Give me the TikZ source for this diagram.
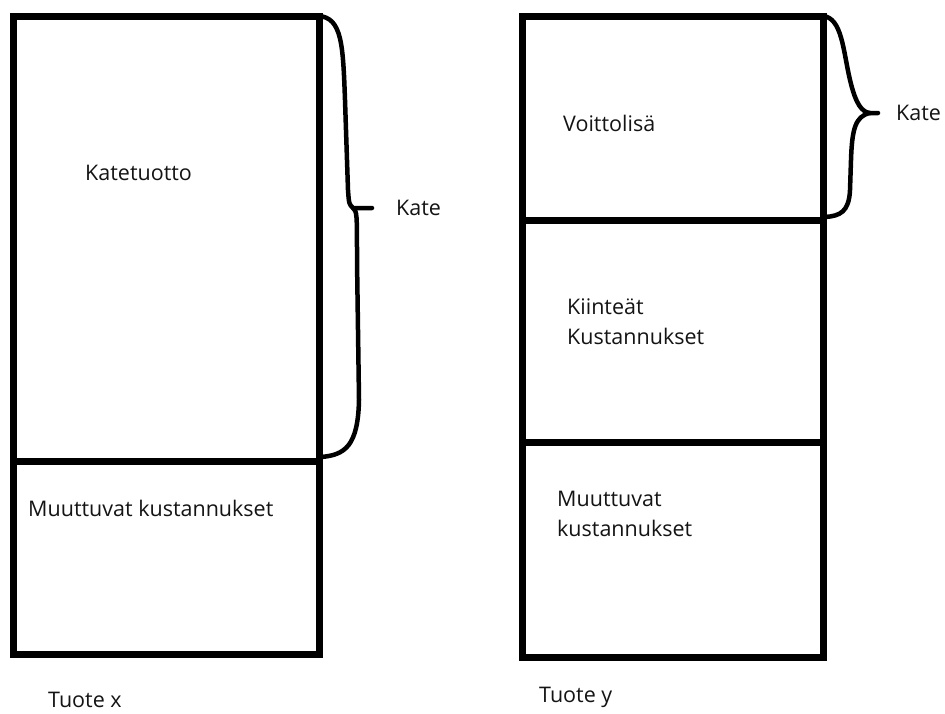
\documentclass[tikz,border=0pt]{standalone}
\usepackage{fontspec}
\setmainfont{Open Sans}
\usetikzlibrary{calc,positioning}
\definecolor{Ink}{HTML}{141414}
\tikzset{col/.style={draw=black,line width=7pt,line join=miter},
  divide/.style={draw=black,line width=7pt},
  brace/.style={draw=black,line width=4.5pt,line cap=round,line join=round},
  lbl/.style={anchor=west,align=left,inner sep=0pt,text=Ink,font=\fontsize{21.5}{30}\selectfont}}

\begin{document}
\begin{tikzpicture}[x=1pt,y=-1pt]
  \useasboundingbox (0,0) rectangle (945,713);
  % tuote x
  \coordinate (xtl) at (13,16);\coordinate (xbr) at (319,654);
  \coordinate (xtr) at (319,16);\coordinate (xmid) at (319,461);
  \draw[col](xtl)rectangle(xbr);
  \draw[divide](13,461)--(xmid);
  \node[lbl](katetuotto) at (85,173){Katetuotto};
  \node[lbl](muutx) at (28,508){Muuttuvat kustannukset};
  \node[lbl](tuotex) at (48,700){Tuote x};
  % tuote y
  \coordinate (ytl) at (522,16);\coordinate (ybr) at (823,657);
  \coordinate (ytr) at (823,16);\coordinate (ymid) at (823,220);
  \draw[col](ytl)rectangle(ybr);
  \draw[divide](522,220)--(ymid);
  \draw[divide](522,442)--(823,442);
  \node[lbl](voitto) at (563,123){Voittolisä};
  \node[lbl](kiinteat) at (567,322){Kiinteät\\Kustannukset};
  \node[lbl](muuty) at (557,514){Muuttuvat\\kustannukset};
  \node[lbl](tuotey) at (539,697){Tuote y};
  % braces
  \coordinate (ltip) at (353,208);\coordinate (rtip) at (870,113);
  \draw[brace](xtr)..controls(342,18)and(343,45)..(345,100)--(348,190)
    ..controls(349,204)..(ltip)--(372,208);
  \draw[brace](ltip)..controls(357,212)..(357,260)--(359,400)
    ..controls(358,446)and(345,455)..(321,457);
  \node[lbl](katex) at (396,208){Kate};
  \draw[brace](ytr)..controls(842,18)and(843,50)..(850,80)
    ..controls(856,105)and(862,112)..(rtip)--(878,113);
  \draw[brace](rtip)..controls(855,116)and(852,130)..(851,160)--(850,190)
    ..controls(849,212)and(840,216)..(825,217);
  \node[lbl](katey) at (896,113){Kate};
\end{tikzpicture}
\end{document}
